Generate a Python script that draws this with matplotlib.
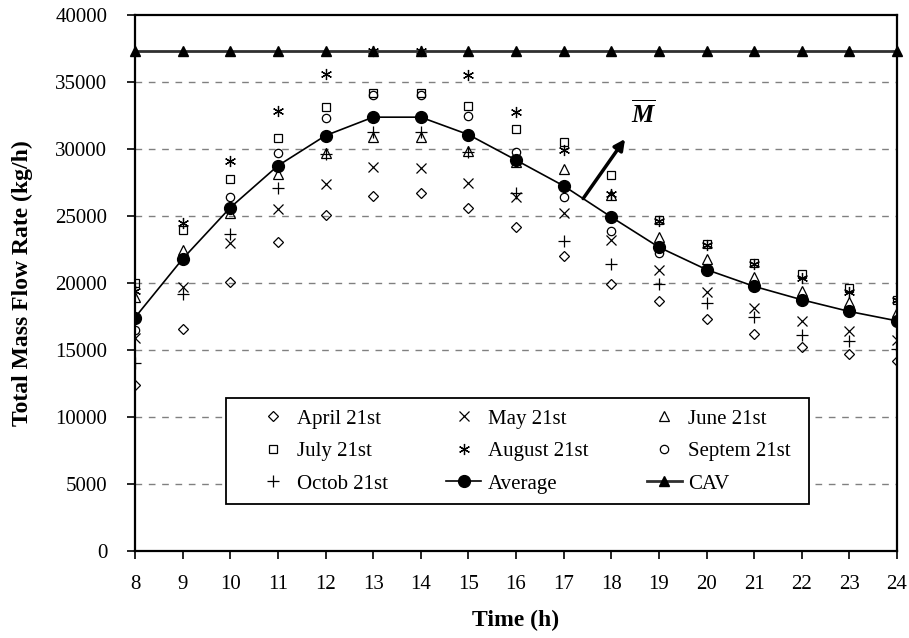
import matplotlib
matplotlib.use("Agg")
import matplotlib.pyplot as plt
from matplotlib.patches import Rectangle

plt.rcParams['font.family'] = ['Liberation Serif', 'DejaVu Serif']
plt.rcParams['mathtext.fontset'] = 'custom'
plt.rcParams['mathtext.it'] = 'Liberation Serif:bold:italic'
plt.rcParams['mathtext.rm'] = 'Liberation Serif:bold'

hours = [8, 9, 10, 11, 12, 13, 14, 15, 16, 17, 18, 19, 20, 21, 22, 23, 24]
april = [12400, 16550, 20100, 23050, 25100, 26500, 26700, 25600, 24150, 22050, 19950, 18650, 17350, 16200, 15250, 14700, 14150]
may = [15900, 19700, 22950, 25500, 27400, 28650, 28600, 27450, 26450, 25200, 23200, 21000, 19300, 18150, 17150, 16450, 15750]
june = [18950, 22500, 25250, 28100, 29700, 30900, 30900, 29850, 29000, 28500, 26600, 23400, 21800, 20450, 19400, 18600, 17800]
july = [20000, 23950, 27750, 30850, 33100, 34150, 34200, 33200, 31500, 30500, 28050, 24700, 22900, 21500, 20650, 19650, 18750]
august = [19400, 24450, 29100, 32850, 35600, 37300, 37300, 35550, 32750, 29950, 26650, 24600, 22850, 21450, 20400, 19300, 18700]
septem = [16500, 21900, 26400, 29700, 32300, 34000, 34050, 32500, 29750, 26400, 23850, 22250, 21050, 19800, 18800, 17950, 17200]
octob = [14050, 19200, 23650, 27100, 29650, 31250, 31250, 29750, 26700, 23150, 21400, 19950, 18500, 17450, 16150, 15700, 15050]
average = [17425, 21800, 25625, 28750, 31000, 32375, 32375, 31075, 29175, 27250, 24925, 22675, 21000, 19750, 18750, 17875, 17175]
cav = [37300, 37300, 37300, 37300, 37300, 37300, 37300, 37300, 37300, 37300, 37300, 37300, 37300, 37300, 37300, 37300, 37300]

labels = ['April 21st', 'May 21st', 'June 21st', 'July 21st', 'August 21st',
          'Septem 21st', 'Octob 21st', 'Average', 'CAV']
yticks = [0, 5000, 10000, 15000, 20000, 25000, 30000, 35000, 40000]

# annotation anchor points (data coords)
arrow_tail = (17.41, 26300)
arrow_head = (18.29, 30750)
m_pos = (18.67, 31600)

W, H = 909, 638
fig = plt.figure(figsize=(W / 100, H / 100), dpi=100)
ax = fig.add_axes([135 / W, 1 - 551 / H, (897 - 135) / W, (551 - 15) / H])

FS = 15
ax.set_xlim(8, 24)
ax.set_ylim(0, 40000)
ax.set_xticks(hours)
ax.set_yticks(yticks)
ax.tick_params(axis='both', direction='out', length=6, width=1.2, labelsize=FS, colors='black')
ax.tick_params(axis='y', pad=14)
ax.tick_params(axis='x', pad=11)
for s in ax.spines.values():
    s.set_linewidth(1.6)
    s.set_color('black')

for yv in yticks[1:-1]:
    ax.axhline(yv, color='#808080', lw=1.0, linestyle=(0, (4.8, 4.8)), zorder=1)

mk = dict(linestyle='none', markeredgecolor='black', markerfacecolor='none', markeredgewidth=0.9, zorder=3)
h_apr, = ax.plot(hours, april, marker='D', markersize=5, label=labels[0], **mk)
h_may, = ax.plot(hours, may, marker='x', markersize=7, label=labels[1], **mk)
h_jun, = ax.plot(hours, june, marker='^', markersize=6.5, label=labels[2], **mk)
h_jul, = ax.plot(hours, july, marker='s', markersize=5.5, label=labels[3], **mk)
h_aug, = ax.plot(hours, august, marker=(6, 2, 0), markersize=8, label=labels[4], **mk)
h_sep, = ax.plot(hours, septem, marker='o', markersize=6, label=labels[5], **mk)
h_oct, = ax.plot(hours, octob, marker='+', markersize=8, label=labels[6], **mk)
h_avg, = ax.plot(hours, average, color='black', lw=1.2, marker='o', markersize=8.5,
                 markerfacecolor='black', markeredgecolor='black', label=labels[7], zorder=4)
h_cav, = ax.plot(hours, cav, color='#303030', lw=2.0, marker='^', markersize=7,
                 markerfacecolor='black', markeredgecolor='black', label=labels[8], zorder=4,
                 clip_on=False)

ax.annotate('', xy=arrow_head, xytext=arrow_tail,
            arrowprops=dict(arrowstyle='-|>', color='black', lw=2.5, mutation_scale=16,
                            shrinkA=0, shrinkB=0), zorder=6)
ax.text(m_pos[0], m_pos[1], r'$\overline{M}$', fontsize=18, ha='center', va='bottom', zorder=6)

ax.set_xlabel('Time (h)', fontsize=17, fontweight='bold', labelpad=12)
ax.set_ylabel('Total Mass Flow Rate (kg/h)', fontsize=17, fontweight='bold', labelpad=16)

# legend frame
fig.patches.append(Rectangle((226 / W, 1 - 504 / H), (809 - 226) / W, (504 - 398) / H,
                             transform=fig.transFigure, facecolor='white', edgecolor='black',
                             lw=1.3, zorder=5))
order = [h_apr, h_jul, h_oct, h_may, h_aug, h_avg, h_jun, h_sep, h_cav]
leg = fig.legend(handles=order, labels=[h.get_label() for h in order], ncol=3,
                 loc='upper left', bbox_to_anchor=(255 / W, 1 - 409 / H),
                 frameon=False, fontsize=FS, borderpad=0, borderaxespad=0,
                 handlelength=1.7, handletextpad=0.3, columnspacing=2.8,
                 labelspacing=0.62)
leg.set_zorder(6)

fig.savefig('out.png', dpi=100)
